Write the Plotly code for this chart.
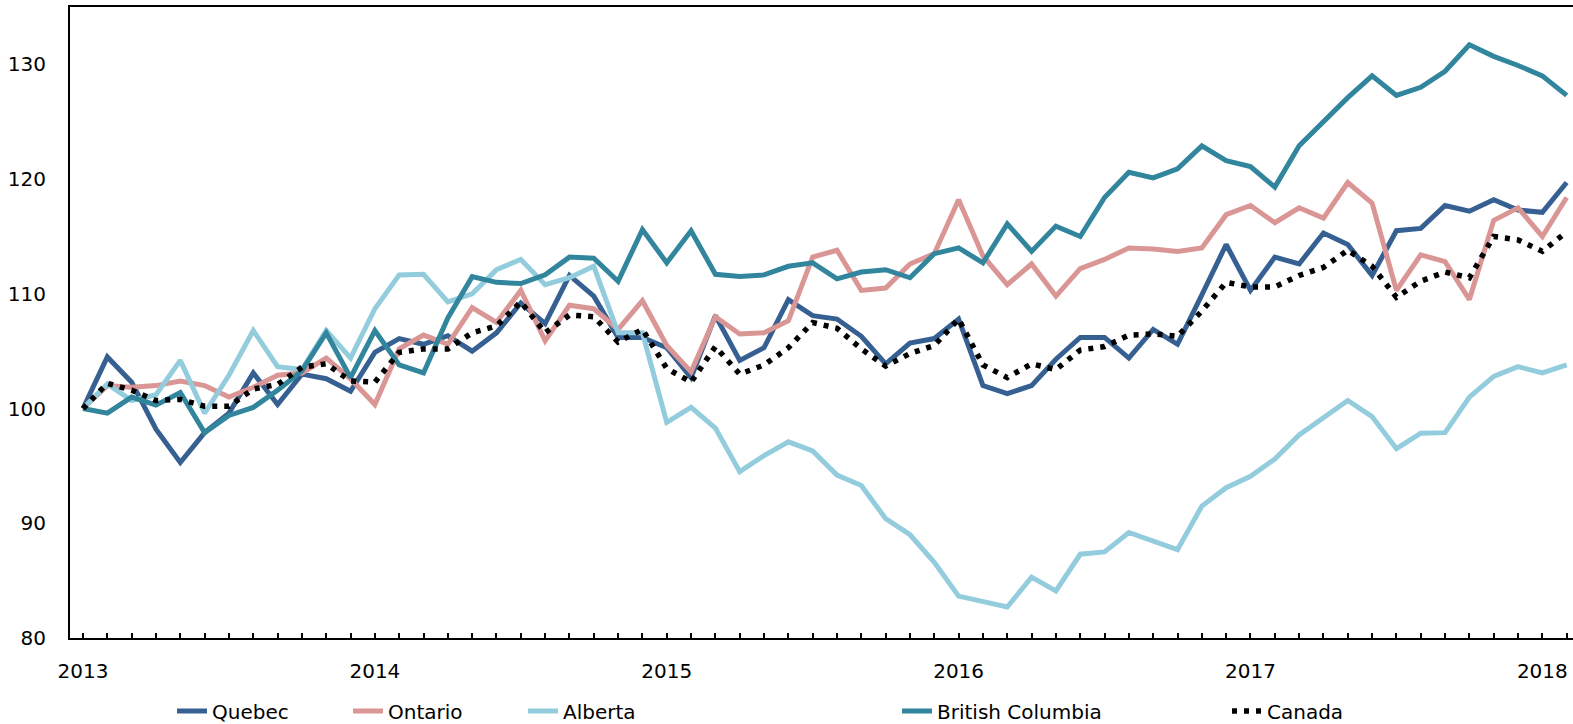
import plotly.graph_objects as go

months = list(range(62))  # Jan 2013 .. Feb 2018
year_ticks = [0, 12, 24, 36, 48, 60]
year_labels = ["2013", "2014", "2015", "2016", "2017", "2018"]

quebec = [100.0, 104.5, 102.3, 98.2, 95.3, 97.9, 99.6, 103.1, 100.35, 103.0, 102.6, 101.5,
          104.9, 106.1, 105.6, 106.35, 105.0, 106.6, 109.2, 107.4, 111.6, 109.8, 106.2, 106.2,
          105.3, 102.7, 108.1, 104.2, 105.3, 109.5, 108.1, 107.8, 106.3, 103.9, 105.7, 106.1,
          107.8, 102.0, 101.3, 102.0, 104.3, 106.2, 106.2, 104.4, 106.9, 105.6, 109.9, 114.3,
          110.3, 113.2, 112.6, 115.3, 114.3, 111.6, 115.5, 115.7, 117.7, 117.2, 118.2, 117.3,
          117.1, 119.7]
ontario = [100.0, 102.0, 101.85, 102.0, 102.4, 102.0, 101.0, 101.85, 102.9, 103.1, 104.4, 102.6,
           100.35, 105.2, 106.4, 105.6, 108.8, 107.5, 110.3, 105.9, 109.0, 108.7, 106.9, 109.4,
           105.5, 103.2, 108.0, 106.5, 106.6, 107.65, 113.2, 113.8, 110.3, 110.5, 112.6, 113.5,
           118.2, 113.3, 110.8, 112.6, 109.8, 112.2, 113.0, 114.0, 113.9, 113.7, 114.0, 116.9,
           117.7, 116.2, 117.5, 116.6, 119.7, 117.9, 110.3, 113.4, 112.8, 109.5, 116.4, 117.5,
           115.0, 118.4]
alberta = [100.0, 102.15, 100.7, 101.2, 104.2, 99.6, 102.9, 106.8, 103.65, 103.4, 106.8, 104.4,
           108.7, 111.65, 111.7, 109.3, 110.0, 112.1, 113.0, 110.8, 111.4, 112.4, 106.6, 106.6,
           98.8, 100.1, 98.3, 94.5, 95.9, 97.1, 96.3, 94.2, 93.3, 90.4, 89.0, 86.6,
           83.65, 83.2, 82.7, 85.3, 84.1, 87.3, 87.5, 89.2, 88.5, 87.7, 91.5, 93.1,
           94.1, 95.6, 97.7, 99.2, 100.7, 99.3, 96.5, 97.85, 97.9, 101.0, 102.8, 103.65,
           103.1, 103.8]
british_columbia = [100.0, 99.6, 101.0, 100.3, 101.4, 97.9, 99.4, 100.1, 101.6, 103.3, 106.6, 102.7,
                    106.8, 103.8, 103.1, 107.9, 111.5, 111.0, 110.9, 111.65, 113.2, 113.1, 111.1, 115.6,
                    112.7, 115.5, 111.7, 111.5, 111.65, 112.4, 112.7, 111.3, 111.9, 112.1, 111.4, 113.5,
                    114.0, 112.7, 116.1, 113.7, 115.9, 115.0, 118.4, 120.6, 120.1, 120.9, 122.9, 121.6,
                    121.1, 119.3, 122.9, 125.0, 127.1, 129.0, 127.3, 128.0, 129.4, 131.7, 130.7, 129.9,
                    129.0, 127.3]
canada = [100.0, 102.2, 101.6, 100.7, 100.8, 100.2, 100.2, 101.7, 102.1, 103.6, 103.9, 102.4,
          102.3, 104.9, 105.2, 105.2, 106.6, 107.2, 109.3, 106.6, 108.15, 108.0, 105.8, 106.9,
          103.5, 102.3, 105.4, 103.0, 103.8, 105.3, 107.5, 107.0, 105.2, 103.7, 104.8, 105.5,
          107.8, 103.8, 102.7, 103.9, 103.4, 105.1, 105.4, 106.4, 106.5, 106.3, 108.5, 111.0,
          110.6, 110.6, 111.6, 112.3, 113.8, 112.4, 109.7, 111.1, 111.9, 111.4, 115.0, 114.7,
          113.7, 115.4]

series = [
    ("Quebec", quebec, "#376092", "solid", "legend"),
    ("Ontario", ontario, "#D99694", "solid", "legend2"),
    ("Alberta", alberta, "#93CDDD", "solid", "legend3"),
    ("British Columbia", british_columbia, "#31859C", "solid", "legend4"),
    ("Canada", canada, "#000000", "5px,7px", "legend5"),
]

W, H = 1573, 724
ML, MR, MT, MB = 70, 0, 7, 86
PW = W - ML - MR

fig = go.Figure()
for name, vals, color, dash, leg in series:
    fig.add_trace(go.Scatter(
        x=months, y=vals, name=name, mode="lines",
        line=dict(color=color, width=5 if dash == "solid" else 5.5, dash=dash),
        legend=leg,
    ))

tickvals = months
ticktext = [year_labels[year_ticks.index(m)] if m in year_ticks else "" for m in months]

font = dict(family="DejaVu Sans, Verdana, sans-serif", size=20, color="#000000")

legend_px = [172, 348, 523, 897, 1227]
legends = {}
for i, lp in enumerate(legend_px):
    key = "legend" if i == 0 else f"legend{i+1}"
    legends[key] = dict(
        x=lp / W, xref="container", xanchor="left",
        y=(H - 711) / H, yref="container", yanchor="middle",
        orientation="h", font=font, bgcolor="rgba(0,0,0,0)",
        borderwidth=0, tracegroupgap=0,
    )

fig.update_layout(
    width=W, height=H,
    margin=dict(l=ML, r=MR, t=MT, b=MB, pad=0, autoexpand=False),
    paper_bgcolor="white", plot_bgcolor="white",
    font=font,
    showlegend=True,
    xaxis=dict(
        range=[-0.535, 61.26], tickmode="array", tickvals=tickvals, ticktext=ticktext,
        ticks="inside", ticklen=5, tickwidth=1.5, tickcolor="black",
        showline=True, linecolor="black", linewidth=2, mirror=True,
        showgrid=False, zeroline=False, ticklabelstandoff=14,
        tickfont=font, automargin=False,
    ),
    yaxis=dict(
        range=[80, 135], tickmode="array", tickvals=[80, 90, 100, 110, 120, 130],
        ticks="", showline=True, linecolor="black", linewidth=2,
        showgrid=False, zeroline=False, ticklabelstandoff=18,
        tickfont=font, automargin=False,
    ),
    **legends,
)

fig.write_html(
    "out.html",
    config={"displayModeBar": False},
    post_script="document.body.style.margin='0';document.body.style.overflow='hidden';",
)
